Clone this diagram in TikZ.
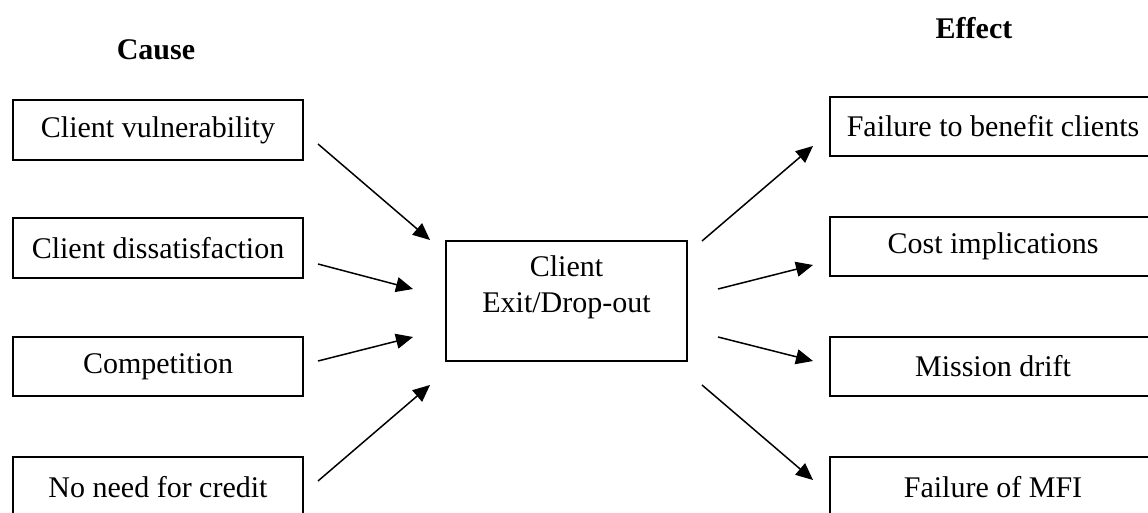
\documentclass[tikz,border=0pt]{standalone}
\usepackage{fontspec}
\setmainfont{Liberation Serif}
\usetikzlibrary{arrows.meta}
\begin{document}
\begin{tikzpicture}[x=1pt,y=-1pt,
  box/.style={draw, line width=1.5pt, inner sep=0pt, font=\fontsize{30}{36}\selectfont},
  head/.style={font=\fontsize{30}{36}\selectfont\bfseries},
  arr/.style={line width=1.5pt, -{Triangle[length=17pt,width=15pt]}}]
\useasboundingbox (0,0) rectangle (1148,513);
% headings
\node[head] (cause) at (156,50) {Cause};
\node[head] (effect) at (974,28) {Effect};
% cause boxes
\node[box, minimum width=290pt, minimum height=60pt] (c1) at (158,130) {Client vulnerability};
\node[box, minimum width=290pt, minimum height=60pt] (c2) at (158,248) {Client dissatisfaction};
\node[box, minimum width=290pt, minimum height=59pt] (c3) at (158,366.5) {Competition};
\node[box, minimum width=290pt, minimum height=60pt] (c4) at (158,487) {No need for credit};
% centre
\node[box, minimum width=241pt, minimum height=120pt] (m) at (566.5,301) {};
\node[font=\fontsize{30}{36}\selectfont, align=center] (mt) at (566.5,287) {Client\\Exit/Drop-out};
% effect boxes
\node[box, minimum width=326pt, minimum height=59pt] (e1) at (993,126.5) {Failure to benefit clients};
\node[box, minimum width=326pt, minimum height=59pt] (e2) at (993,246.5) {Cost implications};
\node[box, minimum width=326pt, minimum height=59pt] (e3) at (993,366.5) {Mission drift};
\node[box, minimum width=326pt, minimum height=60pt] (e4) at (993,487) {Failure of MFI};
% arrow end points
\coordinate (a1s) at (318,144); \coordinate (a1e) at (430,240);
\coordinate (a2s) at (318,264); \coordinate (a2e) at (413,289);
\coordinate (a3s) at (318,361); \coordinate (a3e) at (413,337);
\coordinate (a4s) at (318,481); \coordinate (a4e) at (430,385);
\coordinate (b1s) at (702,241); \coordinate (b1e) at (813,146);
\coordinate (b2s) at (718,289); \coordinate (b2e) at (813,265);
\coordinate (b3s) at (718,337); \coordinate (b3e) at (813,361);
\coordinate (b4s) at (702,385); \coordinate (b4e) at (813,480);
\draw[arr] (a1s) -- (a1e);
\draw[arr] (a2s) -- (a2e);
\draw[arr] (a3s) -- (a3e);
\draw[arr] (a4s) -- (a4e);
\draw[arr] (b1s) -- (b1e);
\draw[arr] (b2s) -- (b2e);
\draw[arr] (b3s) -- (b3e);
\draw[arr] (b4s) -- (b4e);
\end{tikzpicture}
\end{document}
